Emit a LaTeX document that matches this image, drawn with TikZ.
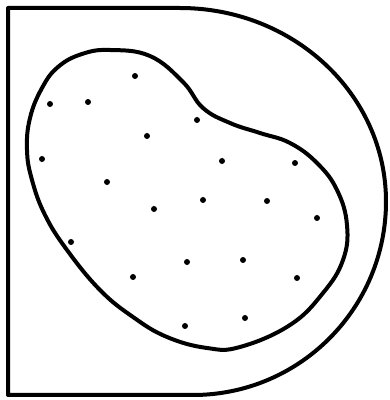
\documentclass[tikz,border=0pt]{standalone}
\begin{document}
\begin{tikzpicture}[x=1pt,y=1pt,
  outline/.style={line width=4pt, line join=round},
  blobline/.style={line width=4pt},
  dot/.style={fill=black}]
\useasboundingbox (0,0) rectangle (390,400);
% outer D shape
\draw[outline] (8,392) -- (180,392)
  arc[start angle=90, end angle=0, x radius=206, y radius=193.5]
  arc[start angle=0, end angle=-90, x radius=193, y radius=193.5]
  -- (8,5) -- cycle;
% kidney-shaped region
\draw[blobline] plot[smooth cycle, tension=0.7] coordinates {
  (110,350) (150,344) (183,318) (203,292) (230,277) (260,267) (290,257)
  (317,237) (337,210) (347,175) (343,140) (323,107) (290,75) (240,53)
  (207,52) (167,63) (133,83) (100,110) (67,150) (45,185) (32,220)
  (27,250) (30,282) (42,312) (58,333) (82,346)};
% dots
\foreach \p in {(135,324),(50,296),(88,298),(197,280),(147,264),(42,241),
  (107,218),(222,239),(295,237),(203,200),(267,199),(317,182),(154,191),
  (71,158),(187,138),(243,140),(133,123),(297,122),(185,74),(245,82)}
  \fill[dot] \p circle[radius=3];
\end{tikzpicture}
\end{document}
